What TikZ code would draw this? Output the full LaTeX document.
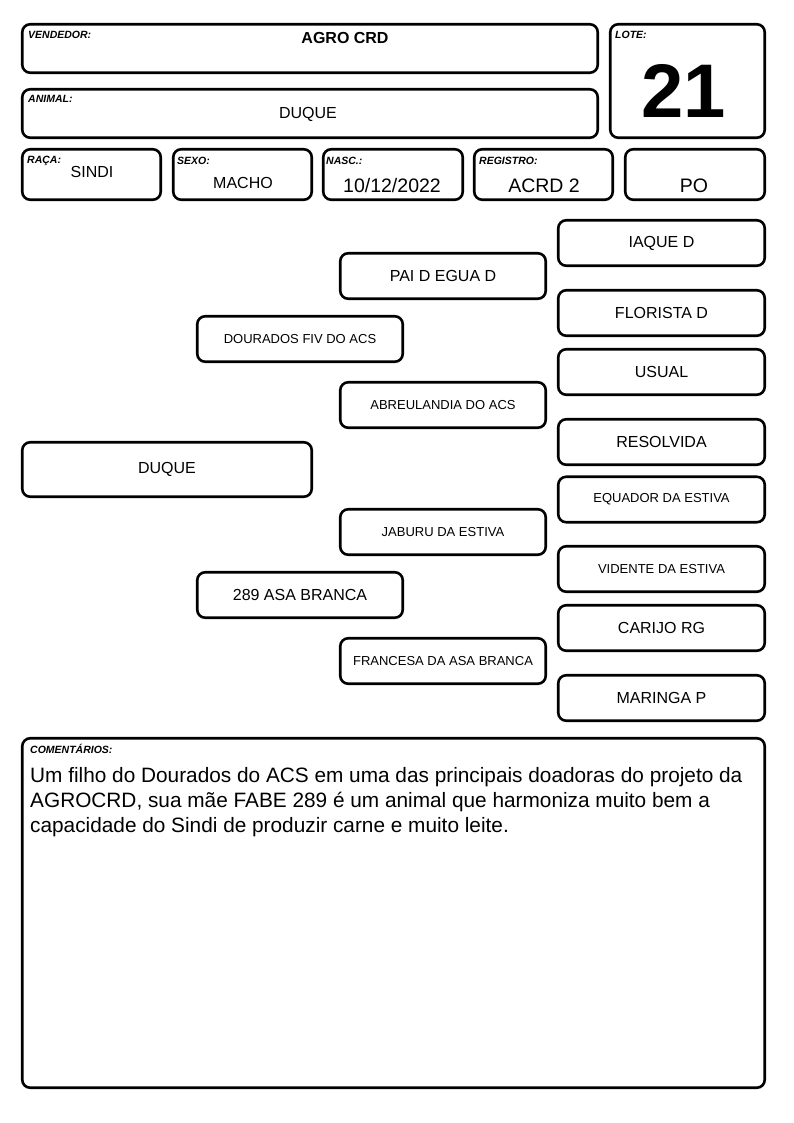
\documentclass[tikz,border=0pt]{standalone}
\usepackage{fontspec}
\setmainfont{Liberation Sans}
\begin{document}
\begin{tikzpicture}[x=1pt,y=-1pt,
 box/.style={draw=black, line width=2.6pt, rounded corners=8pt, inner sep=0pt, fill=white},
 lab/.style={font=\fontsize{10.5}{12}\selectfont\bfseries\itshape, anchor=base west, inner sep=0pt},
 val/.style={anchor=base, inner sep=0pt},
 big/.style={font=\fontsize{16}{19}\selectfont},
 small/.style={font=\fontsize{13}{15}\selectfont},
 huge/.style={font=\fontsize{19.5}{22}\selectfont},
 g1/.style={box, minimum width=205.5pt, minimum height=45.5pt},
 g3/.style={box, minimum width=206.5pt, minimum height=45.5pt},
]
\useasboundingbox[fill=white] (0,0) rectangle (794,1123);

% header boxes
\node[box, minimum width=575.5pt, minimum height=48.5pt] (vend) at (310,48.5) {};
\node[box, minimum width=575.5pt, minimum height=48.5pt] (anim) at (310,113.5) {};
\node[box, minimum width=154.5pt, minimum height=113.5pt] (lote) at (687.5,81) {};
\node[box, minimum width=138.5pt, minimum height=50.5pt] (raca) at (91.5,174.5) {};
\node[box, minimum width=138.5pt, minimum height=50.5pt] (sexo) at (242.5,174.5) {};
\node[box, minimum width=139.5pt, minimum height=50.5pt] (nasc) at (393,174.5) {};
\node[box, minimum width=138.5pt, minimum height=50.5pt] (reg) at (543.5,174.5) {};
\node[box, minimum width=139.5pt, minimum height=50.5pt] (po) at (695,174.5) {};

\node[lab] (lvend) at (28,39) {VENDEDOR:};
\node[lab] (lanim) at (28,103) {ANIMAL:};
\node[lab] (llote) at (615,39) {LOTE:};
\node[lab] (lraca) at (27,164) {RAÇA:};
\node[lab] (lsexo) at (177,165) {SEXO:};
\node[lab] (lnasc) at (326,165) {NASC.:};
\node[lab] (lreg) at (479,165) {REGISTRO:};

\node[val, font=\fontsize{16}{19}\selectfont\bfseries] (vvend) at (345,43.3) {AGRO CRD};
\node[val, big] (vanim) at (308,119) {DUQUE};
\node[val, font=\fontsize{76}{80}\selectfont\bfseries] (vlote) at (684,118) {21};
\node[val, big] (vraca) at (92,178) {SINDI};
\node[val, big] (vsexo) at (243,189) {MACHO};
\node[val, huge] (vnasc) at (392,193) {10/12/2022};
\node[val, huge] (vreg) at (544,193) {ACRD 2};
\node[val, huge] (vpo) at (694,193) {PO};

% pedigree
\node[box, big, minimum width=289.5pt, minimum height=54.5pt] (duque) at (167,469.5) {DUQUE};
\node[g1, small] (dourados) at (300,339) {DOURADOS FIV DO ACS};
\node[g1, big] (asa) at (300,595) {289 ASA BRANCA};
\node[g1, big] (pai) at (443,276) {PAI D EGUA D};
\node[g1, small] (abreu) at (443,405) {ABREULANDIA DO ACS};
\node[g1, small] (jaburu) at (443,532) {JABURU DA ESTIVA};
\node[g1, small] (francesa) at (443,661) {FRANCESA DA ASA BRANCA};
\node[g3, big] (iaque) at (661.5,243) {IAQUE D};
\node[g3, big] (florista) at (661.5,313) {FLORISTA D};
\node[g3, big] (usual) at (661.5,372) {USUAL};
\node[g3, big] (resolvida) at (661.5,442) {RESOLVIDA};
\node[g3, small] (equador) at (661.5,499.5) {EQUADOR DA ESTIVA};
\node[g3, small] (vidente) at (661.5,569) {VIDENTE DA ESTIVA};
\node[g3, big] (carijo) at (661.5,628) {CARIJO RG};
\node[g3, big] (maringa) at (661.5,698) {MARINGA P};

% comments
\node[box, minimum width=742.5pt, minimum height=349.5pt] (coment) at (393.5,913) {};
\node[lab] (lcoment) at (30,753) {COMENTÁRIOS:};
\node[anchor=north west, inner sep=0pt, align=left, font=\fontsize{20.8}{25}\selectfont] (ctext) at (30,767) {Um filho do Dourados do ACS em uma das principais doadoras do projeto da\\AGROCRD, sua mãe FABE 289 é um animal que harmoniza muito bem a\\capacidade do Sindi de produzir carne e muito leite.};
\end{tikzpicture}
\end{document}
